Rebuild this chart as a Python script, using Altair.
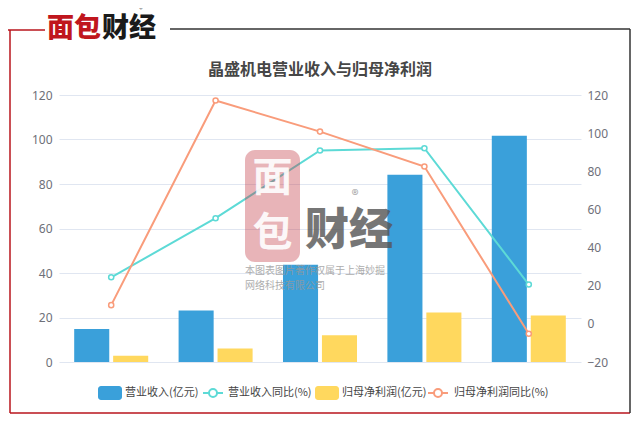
import altair as alt
import pandas as pd

CJK = "Noto Sans CJK SC"

dates = ["2020-06-30", "2021-06-30", "2022-06-30", "2023-06-30", "2024-06-30"]
revenue = [14.8, 23.1, 43.7, 84.2, 101.7]          # 营业收入(亿元)
profit = [2.8, 6.1, 12.0, 22.2, 20.9]              # 归母净利润(亿元)
revenue_yoy = [24.4, 55.4, 90.9, 92.1, 20.6]       # 营业收入同比(%)
profit_yoy = [9.8, 117.1, 100.8, 82.5, -5.2]       # 归母净利润同比(%)

S_REV = "营业收入(亿元)"
S_REV_YOY = "营业收入同比(%)"
S_PRO = "归母净利润(亿元)"
S_PRO_YOY = "归母净利润同比(%)"
series_order = [S_REV, S_REV_YOY, S_PRO, S_PRO_YOY]
series_colors = ["#3aa0da", "#5ddad6", "#ffd85e", "#f99c7b"]
COL = dict(zip(series_order, series_colors))

bars_df = pd.DataFrame(
    [{"date": d, "series": S_REV, "value": v} for d, v in zip(dates, revenue)]
    + [{"date": d, "series": S_PRO, "value": v} for d, v in zip(dates, profit)]
)
lines_df = pd.DataFrame(
    [{"date": d, "series": S_REV_YOY, "value": v} for d, v in zip(dates, revenue_yoy)]
    + [{"date": d, "series": S_PRO_YOY, "value": v} for d, v in zip(dates, profit_yoy)]
)

W, H = 522, 267

color = alt.Color("series:N", scale=alt.Scale(domain=series_order, range=series_colors), legend=None)

x_enc = alt.X("date:N", sort=dates, title=None,
              scale=alt.Scale(paddingInner=0, paddingOuter=0),
              axis=alt.Axis(tickBand="extent", labelAngle=0, labelColor="#6e7079",
                            domainColor="#6e7079", tickColor="#6e7079", tickSize=5,
                            labelFontSize=12, labelPadding=3, labelFont="Noto Sans", grid=False))

bars = alt.Chart(bars_df).mark_bar().encode(
    x=x_enc,
    xOffset=alt.XOffset("series:N", sort=[S_REV, S_PRO],
                        scale=alt.Scale(domain=[S_REV, S_PRO], paddingInner=0.1, paddingOuter=0.39)),
    y=alt.Y("value:Q", title=None,
            scale=alt.Scale(domain=[0, 120], nice=False),
            axis=alt.Axis(orient="left", values=[0, 20, 40, 60, 80, 100, 120], domain=False,
                          ticks=False, gridColor="#e0e6f1", labelColor="#6e7079",
                          labelFontSize=12, labelPadding=7, labelFont="Noto Sans")),
    color=color,
)

y_right = alt.Y("value:Q", title=None,
                scale=alt.Scale(domain=[-20, 120], nice=False),
                axis=alt.Axis(orient="right", values=[-20, 0, 20, 40, 60, 80, 100, 120], grid=False,
                              domain=False, ticks=False, labelColor="#6e7079",
                              labelFontSize=12, labelPadding=6, labelFont="Noto Sans"))
x_line = alt.X("date:N", sort=dates, axis=None)

lines = alt.Chart(lines_df).mark_line(strokeWidth=2).encode(x=x_line, y=y_right, color=color)
points = alt.Chart(lines_df).mark_point(filled=False, fill="white", size=26, strokeWidth=1.5, opacity=1).encode(
    x=x_line, y=y_right, color=color)
line_layer = alt.layer(lines, points)


def one():
    return alt.Chart(pd.DataFrame({"a": [0]}))


def txt(s, x, y, size, col, weight="normal", align="center", baseline="middle", opacity=1.0, font=CJK):
    return alt.Chart(pd.DataFrame({"t": [s]})).mark_text(
        fontSize=size, color=col, fontWeight=weight, align=align, baseline=baseline,
        opacity=opacity, font=font).encode(x=alt.value(x), y=alt.value(y), text="t:N")


def seg(x1, y1, x2, y2, col, w):
    return one().mark_rule(color=col, strokeWidth=w).encode(
        x=alt.value(x1), y=alt.value(y1), x2=alt.value(x2), y2=alt.value(y2))


# legend (drawn as decoration)
LY = 298
LFS = 11
LCOL = "#444444"
legend_marks = [
    one().mark_rect(color=COL[S_REV], cornerRadius=3).encode(
        x=alt.value(39), x2=alt.value(63), y=alt.value(LY - 7), y2=alt.value(LY + 7)),
    txt(S_REV, 66, LY, LFS, LCOL, align="left"),
    seg(144, LY, 164, LY, COL[S_REV_YOY], 2),
    one().mark_point(shape="circle", filled=False, fill="white", color=COL[S_REV_YOY],
                     size=64, strokeWidth=2, opacity=1).encode(x=alt.value(154), y=alt.value(LY)),
    txt(S_REV_YOY, 169, LY, LFS, LCOL, align="left"),
    one().mark_rect(color=COL[S_PRO], cornerRadius=3).encode(
        x=alt.value(256), x2=alt.value(280), y=alt.value(LY - 7), y2=alt.value(LY + 7)),
    txt(S_PRO, 283, LY, LFS, LCOL, align="left"),
    seg(369, LY, 389, LY, COL[S_PRO_YOY], 2),
    one().mark_point(shape="circle", filled=False, fill="white", color=COL[S_PRO_YOY],
                     size=64, strokeWidth=2, opacity=1).encode(x=alt.value(379), y=alt.value(LY)),
    txt(S_PRO_YOY, 395, LY, LFS, LCOL, align="left"),
]

RED = "#b8141c"
frame = [
    seg(-51, -65, -14, -65, RED, 1.5),
    seg(-49, -65, -49, 318, RED, 1.5),
    seg(-49, 318, 571, 318, RED, 1.5),
    seg(111, -66, 571, -66, "#333333", 1.5),
    seg(571, -66, 571, 318, "#333333", 1.5),
]

logo = [
    txt("面包", -12, -66, 27, "#c0161d", weight=900, align="left"),
    txt("财经", 43, -66, 27, "#1a1a1a", weight=900, align="left"),
    txt("®", 82, -85, 7, "#333333"),
]

title = txt("晶盛机电营业收入与归母净利润", W / 2, -25, 16, "#464646", weight="bold")

wm_rect = one().mark_rect(color="#c23b45", opacity=0.38, cornerRadius=10).encode(
    x=alt.value(186), x2=alt.value(241), y=alt.value(55), y2=alt.value(167))
watermark = [
    wm_rect,
    txt("面", 213.5, 84, 40, "#ffffff", weight="bold", opacity=0.9),
    txt("包", 213.5, 139, 40, "#ffffff", weight="bold", opacity=0.9),
    txt("财经", 290, 137, 44, "#555555", weight=900, opacity=0.8),
    txt("®", 296, 101, 14, "#888888", opacity=0.8),
    txt("本图表图片著作权属于上海妙掘", 186, 176, 10, "#999999", align="left", opacity=0.8),
    txt("网络科技有限公司", 186, 191, 10, "#999999", align="left", opacity=0.8),
]

chart = alt.layer(
    bars, line_layer, *watermark, title, *legend_marks, *frame, *logo
).resolve_scale(y="independent").properties(
    width=W, height=H,
    padding={"left": 51, "top": 87, "right": 51, "bottom": 54},
    autosize=alt.AutoSizeParams(type="none"),
).configure_view(stroke=None)

chart.save("out.html", embed_options={"renderer": "svg", "actions": False})
